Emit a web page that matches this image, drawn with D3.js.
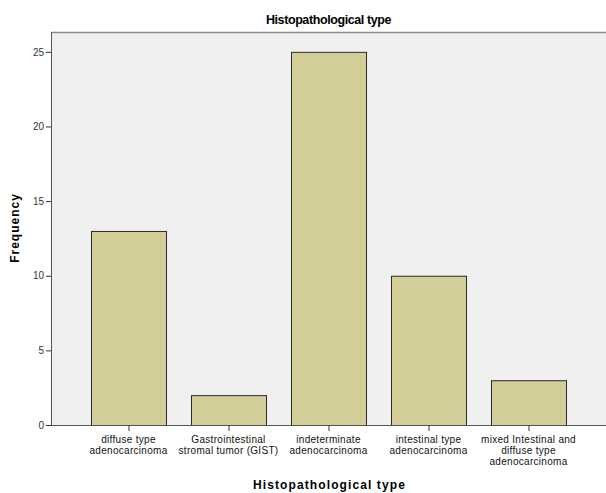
<!DOCTYPE html>
<html><head><meta charset="utf-8">
<script src="https://cdn.jsdelivr.net/npm/d3@7/dist/d3.min.js"></script>
<style>
body{margin:0;background:#fff;}
text{font-family:Arial,"Liberation Sans",sans-serif;}
</style></head>
<body><svg id="c" width="606" height="493"></svg>
<script>
const categories = [
  ["diffuse type","adenocarcinoma"],
  ["Gastrointestinal","stromal tumor (GIST)"],
  ["indeterminate","adenocarcinoma"],
  ["intestinal type","adenocarcinoma"],
  ["mixed Intestinal and","diffuse type","adenocarcinoma"]
];
const frequencies = [13, 2, 25, 10, 3];
const yTicks = [0, 5, 10, 15, 20, 25];
const titleText = "Histopathological type";
const xTitle = "Histopathological type";
const yTitle = "Frequency";

const svg = d3.select("#c");
const L = 51, R = 606, T = 32, B = 425;
const keys = categories.map((c,i)=>i);
const x = d3.scaleBand().domain(keys).range([L, R]).paddingInner(0.25).paddingOuter(0.4);
const y = d3.scaleLinear().domain([0, 26.33]).range([B, T]);

svg.append("rect").attr("x", L).attr("y", T).attr("width", R - L).attr("height", B - T).attr("fill", "#f0f0f0");
svg.append("line").attr("x1", L).attr("x2", R).attr("y1", T + 0.5).attr("y2", T + 0.5).attr("stroke", "#8a8a8a").attr("stroke-width", 1.5);

svg.selectAll("rect.bar").data(frequencies).enter().append("rect")
  .attr("class","bar")
  .attr("x", (d,i)=>x(i) + 0.5)
  .attr("y", d=>y(d) + 0.5)
  .attr("width", x.bandwidth())
  .attr("height", d=>B - y(d))
  .attr("fill", "#d3ce97")
  .attr("stroke", "#2a2a2a")
  .attr("stroke-width", 1);

// y axis
const ya = svg.append("g").attr("transform", `translate(${L},0)`)
  .call(d3.axisLeft(y).tickValues(yTicks).tickSize(5).tickPadding(2));
ya.select(".domain").attr("stroke", "#555").attr("d", `M0.5,${T}V${B}`);
ya.selectAll(".tick line").attr("stroke", "#333");
ya.selectAll(".tick text").attr("font-size", "10px").attr("fill", "#333").attr("font-family","Arial,'Liberation Sans',sans-serif");

// x axis
const xa = svg.append("g").attr("transform", `translate(0,${B})`)
  .call(d3.axisBottom(x).tickSize(6).tickFormat(""));
xa.select(".domain").attr("stroke", "#555").attr("d", `M${L},0.5H${R}`);
xa.selectAll(".tick line").attr("stroke", "#333").attr("transform","translate(0.5,0)");
xa.selectAll(".tick").each(function(d){
  const t = d3.select(this).append("text").attr("fill","#111").attr("font-size","10px")
    .attr("text-anchor","middle").attr("font-family","Arial,'Liberation Sans',sans-serif")
    .attr("style","letter-spacing:0.3px");
  categories[d].forEach((line, j)=>{
    t.append("tspan").attr("x", 0).attr("y", 18 + j*11).text(line);
  });
});

svg.append("text").attr("x", (L + R)/2).attr("y", 24).attr("text-anchor","middle")
  .attr("font-size","12.5px").attr("font-weight","bold").attr("fill","#000")
  .attr("style","letter-spacing:-0.4px").text(titleText);
svg.append("text").attr("x", (L + R)/2 + 1).attr("y", 489).attr("text-anchor","middle")
  .attr("font-size","12px").attr("font-weight","bold").attr("fill","#000")
  .attr("style","letter-spacing:1.1px").text(xTitle);
svg.append("text").attr("transform", `translate(19,${228}) rotate(-90)`).attr("text-anchor","middle")
  .attr("font-size","12px").attr("font-weight","bold").attr("fill","#000")
  .attr("style","letter-spacing:1px").text(yTitle);
</script></body></html>
